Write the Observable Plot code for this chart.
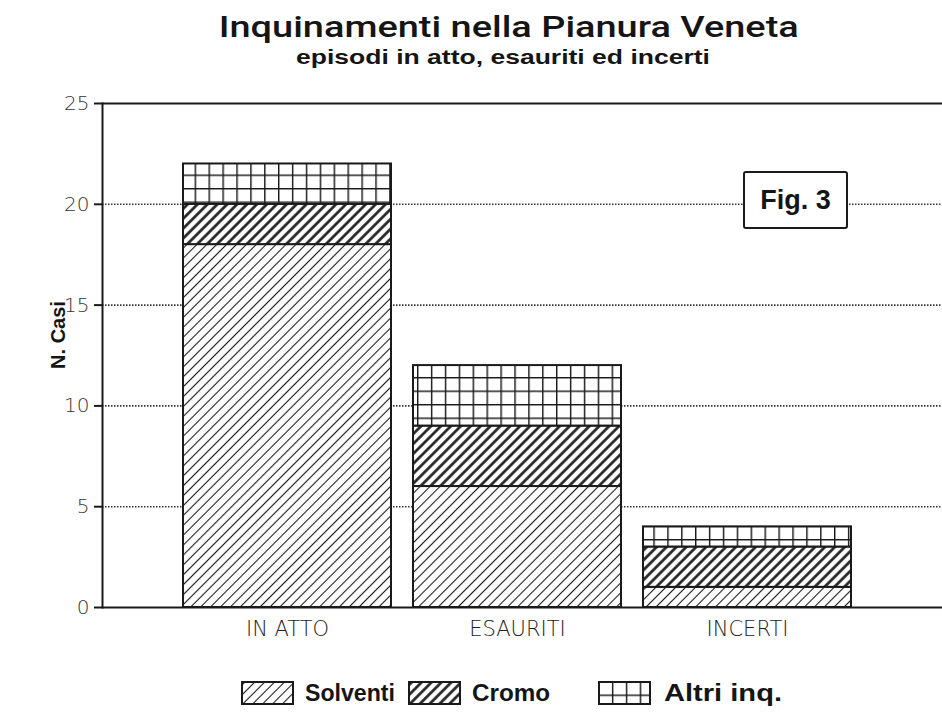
<!DOCTYPE html>
<html><head><meta charset="utf-8">
<script src="https://cdn.jsdelivr.net/npm/d3@7"></script>
<script src="https://cdn.jsdelivr.net/npm/@observablehq/plot@0.6"></script>
<style>
body{margin:0;background:#fff;}
#wrap{position:relative;width:942px;height:713px;overflow:hidden;font-family:"Liberation Sans",Arial,sans-serif;color:#151515;}
.abs{position:absolute;white-space:nowrap;}
#plot{position:absolute;left:0;top:80px;}
</style></head><body><div id="wrap"><div id="plot"></div></div>
<script>
const categories = ["IN ATTO", "ESAURITI", "INCERTI"];
const seriesNames = ["Solventi", "Cromo", "Altri inq."];
const solventi = [18, 6, 1];
const cromo = [2, 3, 2];
const altri = [2, 3, 1];
const yTicks = [0, 5, 10, 15, 20, 25];
const gridTicks = [5, 10, 15, 20];
const titleText = "Inquinamenti nella Pianura Veneta";
const subtitleText = "episodi in atto, esauriti ed incerti";
const yLabelText = "N. Casi";
const figText = "Fig. 3";

const ink = "#1a1a1a";
function patternDefs(p) {
  return `
  <pattern id="${p}solv" patternUnits="userSpaceOnUse" width="7" height="7" patternTransform="rotate(45)">
    <rect width="7" height="7" fill="#fff"/><line x1="3.5" y1="-1" x2="3.5" y2="8" stroke="${ink}" stroke-width="1.1"/></pattern>
  <pattern id="${p}cromo" patternUnits="userSpaceOnUse" width="7" height="7" patternTransform="rotate(45)">
    <rect width="7" height="7" fill="#fff"/><line x1="3.5" y1="-1" x2="3.5" y2="8" stroke="${ink}" stroke-width="2.6"/></pattern>
  <pattern id="${p}altri" patternUnits="userSpaceOnUse" width="13.9" height="13.5">
    <rect width="13.9" height="13.5" fill="#fff"/><path d="M0 0.7H13.9M0.7 0V13.5" stroke="${ink}" stroke-width="1.5"/></pattern>`;
}
const patIds = ["solv", "cromo", "altri"];

const data = [];
categories.forEach((c, i) => {
  data.push({cat: c, series: seriesNames[0], value: solventi[i]});
  data.push({cat: c, series: seriesNames[1], value: cromo[i]});
  data.push({cat: c, series: seriesNames[2], value: altri[i]});
});

const tickFont = '"DejaVu Sans", sans-serif';
const chart = Plot.plot({
  width: 942, height: 570,
  marginLeft: 102, marginRight: 0, marginTop: 23, marginBottom: 43,
  style: {background: "transparent", overflow: "visible"},
  x: {domain: categories, range: [102.5, 931.5], paddingInner: 0.096, paddingOuter: 0.35},
  y: {domain: [0, 25]},
  color: {domain: seriesNames, range: patIds.map(id => `url(#p-${id})`)},
  marks: [
    Plot.ruleY(gridTicks, {stroke: "#333", strokeWidth: 1.6, strokeDasharray: "1.5,1.5"}),
    Plot.ruleY([0, 25], {stroke: ink, strokeWidth: 2}),
    Plot.frame({anchor: "left", stroke: ink, strokeWidth: 2}),
    Plot.barY(data, {x: "cat", y: "value", fill: "series", stroke: ink, strokeWidth: 2}),
    Plot.axisY({ticks: yTicks, tickSize: 8, tickPadding: 5, label: null, fontSize: 20,
      fontFamily: tickFont, fontWeight: 200, stroke: ink, strokeWidth: 2, fill: "#333"}),
    Plot.axisX({tickSize: 0, tickPadding: 14, label: null, fontSize: 21,
      fontFamily: tickFont, fontWeight: 200, fill: "#222"})
  ]
});
const defs = document.createElementNS("http://www.w3.org/2000/svg", "defs");
defs.innerHTML = patternDefs("p-");
chart.insertBefore(defs, chart.firstChild);
document.getElementById("plot").appendChild(chart);

const wrap = document.getElementById("wrap");
function addText(txt, css) {
  const d = document.createElement("div");
  d.className = "abs";
  d.textContent = txt;
  Object.assign(d.style, css);
  wrap.appendChild(d);
  return d;
}
function fit(el, cx, target) {
  const w = el.getBoundingClientRect().width;
  el.style.left = (cx - w / 2) + "px";
  el.style.transformOrigin = "center";
  el.style.transform = `scaleX(${target / w})`;
}
function fitLeft(el, left, target) {
  const w = el.getBoundingClientRect().width;
  el.style.left = left + "px";
  el.style.transformOrigin = "left center";
  el.style.transform = `scaleX(${target / w})`;
}
const t = addText(titleText, {top: "13px", fontSize: "29px", lineHeight: "29px", fontWeight: "500", fontFamily: "Roboto, sans-serif"});
fit(t, 509, 580);
const st = addText(subtitleText, {top: "46px", fontSize: "21px", lineHeight: "21px", fontWeight: "bold"});
fit(st, 503, 414);

addText(yLabelText, {left: "58px", top: "335px", fontSize: "20px", lineHeight: "20px", fontWeight: "bold",
  transform: "translate(-50%,-50%) rotate(-90deg)"});

addText(figText, {left: "743px", top: "171px", width: "101px", height: "54px", border: "2px solid " + ink,
  borderRadius: "3px", background: "#fff", fontSize: "27px", lineHeight: "54px", fontWeight: "bold", textAlign: "center"});

// legend
const swX = [241, 408, 598];
const lbX = [305, 472, 664];
const lbW = [90, 78, 118];
seriesNames.forEach((name, i) => {
  const s = document.createElement("div");
  s.className = "abs";
  Object.assign(s.style, {left: swX[i] + "px", top: "681px"});
  s.innerHTML = `<svg width="53" height="24"><defs>${patternDefs("lg" + i + "-")}</defs>
    <rect x="1" y="1" width="51" height="22" fill="url(#lg${i}-${patIds[i]})" stroke="${ink}" stroke-width="2"/></svg>`;
  wrap.appendChild(s);
  const l = addText(name, {top: "681px", fontSize: "23px", lineHeight: "24px", fontWeight: "bold"});
  fitLeft(l, lbX[i], lbW[i]);
});
</script></body></html>
